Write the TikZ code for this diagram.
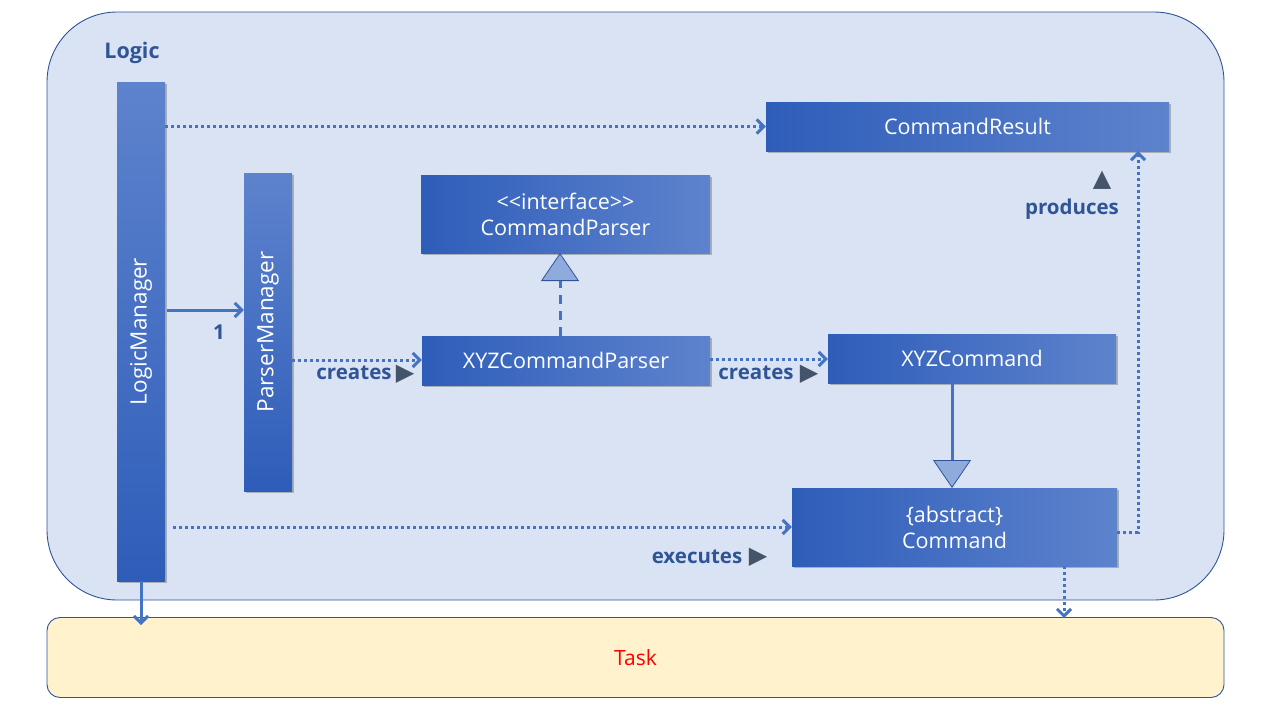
\documentclass[tikz,border=0pt]{standalone}
\usepackage{fontspec}
\setmainfont{Open Sans}
\newfontfamily\symfont{DejaVu Sans}
\usetikzlibrary{arrows.meta,shadows,calc}
\definecolor{lineblue}{HTML}{4472C4}
\definecolor{edgeblue}{HTML}{2F5597}
\definecolor{logicfill}{HTML}{DAE3F3}
\definecolor{taskfill}{HTML}{FFF2CC}
\definecolor{boxdark}{HTML}{2E5DB9}
\definecolor{boxlight}{HTML}{5E83CD}
\definecolor{lbl}{HTML}{2F5597}
\definecolor{tri}{HTML}{44546A}
\definecolor{genfill}{HTML}{8FAADC}
\tikzset{
  hbox/.style={rectangle, left color=boxdark, right color=boxlight, draw=none,
    text=white, font=\fontsize{21.5}{26}\selectfont, align=center, inner sep=0pt,
    drop shadow={shadow xshift=1.5pt,shadow yshift=-1.8pt,opacity=0.35,fill=black!70}},
  vbox/.style={rectangle, top color=boxlight, bottom color=boxdark, draw=none,
    inner sep=0pt,
    drop shadow={shadow xshift=1.5pt,shadow yshift=-1.8pt,opacity=0.35,fill=black!70}},
  vtext/.style={rotate=90, text=white, font=\fontsize{22.5}{26}\selectfont},
  conn/.style={draw=lineblue, line width=3pt},
  dotline/.style={conn, dash pattern=on 3pt off 3pt},
  dashline/.style={conn, dash pattern=on 9pt off 7pt},
  openarrow/.style={-{Straight Barb[length=7pt,width=14pt]}},
  gentip/.style={-{Triangle[length=28pt,width=38pt,fill=genfill,color=edgeblue,line width=0.8pt]}},
  lab/.style={text=lbl, font=\bfseries\fontsize{20.5}{24}\selectfont, inner sep=0pt},
  trilab/.style={text=tri, font=\symfont\fontsize{24}{26}\selectfont, inner sep=0pt},
}
\begin{document}
\begin{tikzpicture}[x=1pt,y=-1pt]
\useasboundingbox (0,0) rectangle (1280,720);
% containers
\draw[draw=edgeblue, line width=0.9pt, fill=logicfill, rounded corners=70pt] (47,12) rectangle (1224,600);
\node[draw=edgeblue, line width=0.9pt, fill=taskfill, rounded corners=13pt, minimum width=1177pt, minimum height=80pt, inner sep=0pt, text=red, font=\fontsize{21}{24}\selectfont] (task) at (635.5,657.5) {Task};
\node[lab, font=\bfseries\fontsize{21.5}{24}\selectfont] (logic) at (132,53) {Logic};
% classes
\node[vbox, minimum width=48pt, minimum height=499pt] (lm) at (141,331.5) {};
\node[vtext] at (lm.center) {LogicManager};
\node[vbox, minimum width=48pt, minimum height=318pt] (pm) at (268,332) {};
\node[vtext] at (pm.center) {ParserManager};
\node[hbox, minimum width=403pt, minimum height=49pt] (cr) at (967.5,126.5) {CommandResult};
\node[hbox, minimum width=289pt, minimum height=78pt] (cp) at (565.5,214) {<{}<interface>{}>\\CommandParser};
\node[hbox, minimum width=288pt, minimum height=49pt] (xcp) at (566,360.5) {XYZCommandParser};
\node[hbox, minimum width=288pt, minimum height=49pt] (xc) at (972,358.5) {XYZCommand};
\node[hbox, minimum width=325pt, minimum height=78pt] (cmd) at (954.5,527) {\{abstract\}\\Command};
% helper coordinates
\coordinate (lmA) at (lm.east |- cr.west);
\coordinate (lmB) at (167,310);
\coordinate (pmB) at (pm.west |- lmB);
\coordinate (lmC) at (173,527);
\coordinate (corner) at (1138,527);
\coordinate (crB) at (1138,151);
\coordinate (cmdB) at (1064,566);
\coordinate (taskA) at (1064,618);
\coordinate (lmD) at (141,581);
\coordinate (taskB) at (141,625);
\coordinate (cpB) at (560,253);
\coordinate (xcpT) at (560,336);
\coordinate (xcB) at (952,383);
\coordinate (cmdT) at (952,488);
% connectors
\draw[dotline, openarrow] (lmA) -- (cr.west);
\draw[conn, openarrow] (lmB) -- (pmB);
\draw[dotline, openarrow] (pm.east |- 0,360) -- (xcp.west |- 0,360);
\draw[dotline, openarrow] (xcp.east |- 0,359) -- (xc.west |- 0,359);
\draw[dashline, gentip] (xcpT) -- (cpB);
\draw[conn, gentip] (xcB) -- (cmdT);
\draw[dotline, openarrow] (lmC) -- (cmd.west |- lmC);
\draw[dotline, openarrow] (cmd.east |- 0,532) -- (corner |- 0,532) -- (crB);
\draw[dotline, openarrow] (cmdB) -- (taskA);
\draw[conn, openarrow] (lmD) -- (taskB);
% labels
\node[lab] (one) at (219,332) {1};
\node[lab] (cr1) at (354,373) {creates};
\node[trilab] (cr1t) at (405,374) {▶};
\node[lab] (cr2) at (756,373) {creates};
\node[trilab] (cr2t) at (809,374) {▶};
\node[lab] (ex) at (697,557) {executes};
\node[trilab] (ext) at (758,557) {▶};
\node[trilab] (prt) at (1102,180) {▲};
\node[lab] (pr) at (1072,209) {produces};
\end{tikzpicture}
\end{document}
